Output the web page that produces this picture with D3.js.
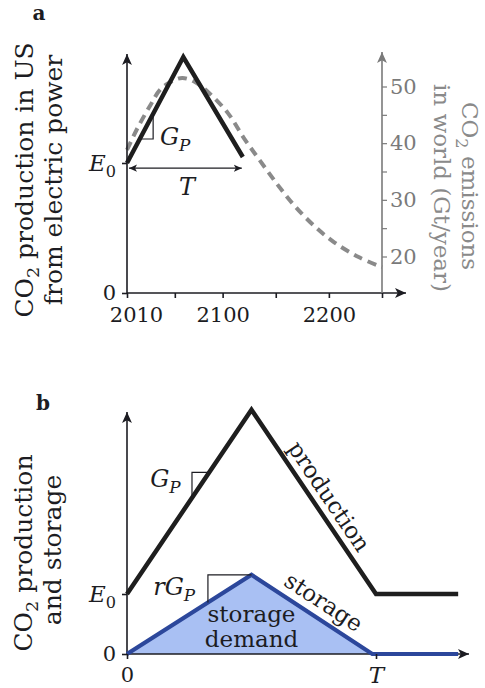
<!DOCTYPE html>
<html>
<head>
<meta charset="utf-8">
<script src="https://cdn.jsdelivr.net/npm/d3@7"></script>
<style>
  body { margin: 0; background: #fff; }
  text { font-family: "DejaVu Serif", serif; }
</style>
</head>
<body>
<svg id="chart" width="485" height="688"></svg>
<script>
// ---- panel a data: US power-sector CO2 (units of E0) and world emissions (Gt/year)
const usYears = [2010, 2063, 2119];
const usProd = [1, 1.815, 1.046];
const worldYears = [2010, 2020, 2032, 2041, 2051, 2062, 2074, 2087, 2105, 2120, 2136, 2152, 2167, 2185, 2205, 2228, 2250];
const worldEmis = [38.8, 42.7, 46.7, 49.4, 50.8, 51.5, 50.8, 48.9, 45.3, 40.9, 36.7, 32.6, 29.1, 25.6, 22.5, 19.9, 18.1];
const yearTicks = [2010, 2055, 2100, 2150, 2200, 2250];
const yearLabels = [2010, 2100, 2200];
const worldTicks = [20, 25, 30, 35, 40, 45, 50];

// ---- panel b data: schematic, time in units of T, amounts in units of E0
const prodT = [0, 0.5, 1, 1.33];
const prodV = [1, 4.07, 1, 1];
const storT = [0, 0.5, 0.985, 1.33];
const storV = [0, 1.32, 0, 0];

const svg = d3.select('#chart');
const dark = '#1c1c22', gray = '#7a7a7a';

// arrow heads
const defs = svg.append('defs');
function marker(id, color, size) {
  defs.append('marker')
    .attr('id', id)
    .attr('viewBox', '0 0 10 10')
    .attr('refX', 10).attr('refY', 5)
    .attr('markerUnits', 'userSpaceOnUse')
    .attr('markerWidth', size).attr('markerHeight', size)
    .attr('orient', 'auto-start-reverse')
    .append('path')
    .attr('d', 'M0,0.5 L10,5 L0,9.5 L2.5,5 Z')
    .attr('fill', color);
}
marker('arDark', dark, 11);
marker('arGray', gray, 11);
marker('arSmall', dark, 8);

// text with italic / subscript pieces
function rich(t, size, parts) {
  let down = false;
  parts.forEach(function (p) {
    const s = p[0], kind = p[1] || '';
    const sub = kind.indexOf('sub') >= 0;
    const sp = t.append('tspan').text(s);
    if (kind.indexOf('it') >= 0) sp.attr('font-style', 'italic');
    if (sub) sp.attr('font-size', size * 0.7);
    if (sub && !down) { sp.attr('dy', size * 0.25); down = true; }
    else if (!sub && down) { sp.attr('dy', -size * 0.25); down = false; }
  });
  return t;
}

function axisLine(x1, y1, x2, y2, color, mk) {
  svg.append('line')
    .attr('x1', x1).attr('y1', y1).attr('x2', x2).attr('y2', y2)
    .attr('stroke', color).attr('stroke-width', 1.6)
    .attr('marker-end', 'url(#' + mk + ')');
}

function styleAxis(g, color, fs) {
  g.select('.domain').remove();
  g.selectAll('.tick line').attr('stroke', color).attr('stroke-width', 1.6);
  g.selectAll('.tick text').attr('fill', color)
    .attr('font-family', '"DejaVu Serif", serif').attr('font-size', fs);
}

// ================= panel a =================
const xA = d3.scaleLinear().domain([2010, 2250]).range([127, 382]);
const yA = d3.scaleLinear().domain([0, 1]).range([293, 163]);
const yW = d3.scaleLinear().domain([20, 50]).range([256.5, 86.5]);

// world emissions, dashed
svg.append('path')
  .datum(worldYears.map((y, i) => [y, worldEmis[i]]))
  .attr('fill', 'none')
  .attr('stroke', '#8a8a8a')
  .attr('stroke-width', 4)
  .attr('stroke-dasharray', '9,6')
  .attr('d', d3.line().x(d => xA(d[0])).y(d => yW(d[1])).curve(d3.curveCatmullRom));

// US production
svg.append('path')
  .datum(usYears.map((y, i) => [y, usProd[i]]))
  .attr('fill', 'none')
  .attr('stroke', '#1e1e1e')
  .attr('stroke-width', 4.5)
  .attr('stroke-linejoin', 'miter')
  .attr('d', d3.line().x(d => xA(d[0])).y(d => yA(d[1])));

// axes
axisLine(xA(2010), yA(0), xA(2010), 54, dark, 'arDark');
axisLine(xA(2010), yA(0), 406, yA(0), dark, 'arDark');
axisLine(xA(2250), yA(0), xA(2250), 52, gray, 'arGray');

const axLA = svg.append('g').attr('transform', 'translate(' + xA(2010) + ',0)')
  .call(d3.axisLeft(yA).tickValues([0, 1]).tickSize(5).tickPadding(6)
    .tickFormat(d => d === 0 ? '0' : ''));
styleAxis(axLA, dark, 21);
axLA.selectAll('.tick text').filter(d => d === 1)
  .each(function () { rich(d3.select(this).attr('font-size', 23), 23, [['E', 'it'], ['0', 'sub']]); });

const axBA = svg.append('g').attr('transform', 'translate(0,' + yA(0) + ')')
  .call(d3.axisBottom(xA).tickValues(yearTicks).tickSize(5).tickPadding(9)
    .tickFormat(d => yearLabels.indexOf(d) >= 0 ? d : ''));
styleAxis(axBA, dark, 21);
axBA.selectAll('.tick text').filter(d => d === 2010).attr('dx', 9);

const axRA = svg.append('g').attr('transform', 'translate(' + xA(2250) + ',0)')
  .call(d3.axisRight(yW).tickValues(worldTicks).tickSize(5).tickPadding(3)
    .tickFormat(d => d % 10 === 0 ? d : ''));
styleAxis(axRA, gray, 21);
axRA.selectAll('.tick line').attr('stroke-width', 1.2);

// T span arrow
svg.append('line')
  .attr('x1', xA(usYears[0]) + 2).attr('x2', xA(usYears[2]) - 1)
  .attr('y1', yA(0.96)).attr('y2', yA(0.96))
  .attr('stroke', dark).attr('stroke-width', 1.2)
  .attr('marker-start', 'url(#arSmall)').attr('marker-end', 'url(#arSmall)');
rich(svg.append('text')
  .attr('x', (xA(usYears[0]) + xA(usYears[2])) / 2 + 2).attr('y', 195)
  .attr('text-anchor', 'middle').attr('font-size', 24).attr('fill', dark), 24, [['T', 'it']]);

// slope triangle G_P (panel a)
const sA = (usProd[1] - usProd[0]) / (usYears[1] - usYears[0]);
const ga0 = 2022, ga1 = 2034.6;
svg.append('path')
  .attr('d', d3.line()([
    [xA(ga0), yA(usProd[0] + sA * (ga0 - 2010))],
    [xA(ga1), yA(usProd[0] + sA * (ga0 - 2010))],
    [xA(ga1), yA(usProd[0] + sA * (ga1 - 2010))]
  ]))
  .attr('fill', 'none').attr('stroke', dark).attr('stroke-width', 1.2);
rich(svg.append('text').attr('x', xA(2041)).attr('y', 145)
  .attr('font-size', 24).attr('fill', dark), 24, [['G', 'it'], ['P', 'itsub']]);

// panel label and axis titles
svg.append('text').attr('x', 39).attr('y', 20).attr('text-anchor', 'middle')
  .attr('font-weight', 'bold').attr('font-size', 20).attr('fill', dark).text('a');

rich(svg.append('text').attr('transform', 'translate(33,180) rotate(-90)')
  .attr('text-anchor', 'middle').attr('font-size', 25).attr('fill', dark), 25,
  [['CO'], ['2', 'sub'], [' production in US']]);
svg.append('text').attr('transform', 'translate(62,180) rotate(-90)')
  .attr('text-anchor', 'middle').attr('font-size', 25).attr('fill', dark)
  .text('from electric power');

rich(svg.append('text').attr('transform', 'translate(462,186) rotate(90)')
  .attr('text-anchor', 'middle').attr('font-size', 23).attr('fill', '#8a8a8a'), 23,
  [['CO'], ['2', 'sub'], [' emissions']]);
svg.append('text').attr('transform', 'translate(434,188) rotate(90)')
  .attr('text-anchor', 'middle').attr('font-size', 23).attr('fill', '#8a8a8a')
  .text('in world (Gt/year)');

// ================= panel b =================
const xB = d3.scaleLinear().domain([0, 1]).range([127, 376]);
const yB = d3.scaleLinear().domain([0, 1]).range([654, 594]);

// storage demand area
svg.append('path')
  .datum(storT.map((t, i) => [t, storV[i]]))
  .attr('fill', '#a9c0f3')
  .attr('d', d3.area().x(d => xB(d[0])).y0(yB(0)).y1(d => yB(d[1])));

axisLine(xB(0), yB(0), xB(0), 412, dark, 'arDark');
axisLine(xB(0), yB(0), 469, yB(0), dark, 'arDark');

svg.append('path')
  .datum(storT.map((t, i) => [t, storV[i]]))
  .attr('fill', 'none').attr('stroke', '#2c479b').attr('stroke-width', 4.2)
  .attr('d', d3.line().x(d => xB(d[0])).y(d => yB(d[1])));

svg.append('path')
  .datum(prodT.map((t, i) => [t, prodV[i]]))
  .attr('fill', 'none').attr('stroke', '#1e1e1e').attr('stroke-width', 4.5)
  .attr('d', d3.line().x(d => xB(d[0])).y(d => yB(d[1])));

const axLB = svg.append('g').attr('transform', 'translate(' + xB(0) + ',0)')
  .call(d3.axisLeft(yB).tickValues([0, 1]).tickSize(5).tickPadding(6)
    .tickFormat(d => d === 0 ? '0' : ''));
styleAxis(axLB, dark, 21);
axLB.selectAll('.tick text').filter(d => d === 1)
  .each(function () { rich(d3.select(this).attr('font-size', 23), 23, [['E', 'it'], ['0', 'sub']]); });

const axBB = svg.append('g').attr('transform', 'translate(0,' + yB(0) + ')')
  .call(d3.axisBottom(xB).tickValues([0, 1]).tickSize(5).tickPadding(8)
    .tickFormat(d => d === 0 ? '0' : ''));
styleAxis(axBB, dark, 21);
axBB.selectAll('.tick text').filter(d => d === 1)
  .each(function () { rich(d3.select(this).attr('font-size', 23), 23, [['T', 'it']]); });

// labels along segments
function along(p, q, txt, off, shift, fs, color) {
  const a = [xB(p[0]), yB(p[1])], b = [xB(q[0]), yB(q[1])];
  const dx = b[0] - a[0], dy = b[1] - a[1], L = Math.hypot(dx, dy);
  const ux = dx / L, uy = dy / L, nx = uy, ny = -ux;
  const cx = (a[0] + b[0]) / 2 + nx * off + ux * shift;
  const cy = (a[1] + b[1]) / 2 + ny * off + uy * shift;
  svg.append('text')
    .attr('transform', 'translate(' + cx + ',' + cy + ') rotate(' + Math.atan2(dy, dx) * 180 / Math.PI + ')')
    .attr('text-anchor', 'middle').attr('dy', '0.35em')
    .attr('font-size', fs).attr('fill', color).text(txt);
}
along([prodT[1], prodV[1]], [prodT[2], prodV[2]], 'production', 16, 4, 23, dark);
along([storT[1], storV[1]], [storT[2], storV[2]], 'storage', 17, 3, 23, dark);

svg.append('text').attr('x', xB(0.5)).attr('y', 622).attr('text-anchor', 'middle')
  .attr('font-size', 23).attr('fill', dark).text('storage');
svg.append('text').attr('x', xB(0.5)).attr('y', 647).attr('text-anchor', 'middle')
  .attr('font-size', 23).attr('fill', dark).text('demand');

// slope triangles panel b
const sP = (prodV[1] - prodV[0]) / prodT[1];
const g0 = 0.261, g1 = 0.33;
svg.append('path')
  .attr('d', d3.line()([
    [xB(g0), yB(prodV[0] + sP * g0)],
    [xB(g0), yB(prodV[0] + sP * g1)],
    [xB(g1), yB(prodV[0] + sP * g1)]
  ]))
  .attr('fill', 'none').attr('stroke', dark).attr('stroke-width', 1.2);
rich(svg.append('text').attr('x', xB(0.093)).attr('y', 487)
  .attr('font-size', 24).attr('fill', dark), 24, [['G', 'it'], ['P', 'itsub']]);

const sS = storV[1] / storT[1];
const r0 = 0.325;
svg.append('path')
  .attr('d', d3.line()([
    [xB(r0), yB(sS * r0)],
    [xB(r0), yB(storV[1])],
    [xB(storT[1]), yB(storV[1])]
  ]))
  .attr('fill', 'none').attr('stroke', dark).attr('stroke-width', 1.2);
rich(svg.append('text').attr('x', xB(0.105)).attr('y', 595)
  .attr('font-size', 24).attr('fill', dark), 24, [['r', 'it'], ['G', 'it'], ['P', 'itsub']]);

svg.append('text').attr('x', 43).attr('y', 410).attr('text-anchor', 'middle')
  .attr('font-weight', 'bold').attr('font-size', 20).attr('fill', dark).text('b');

rich(svg.append('text').attr('transform', 'translate(32,553) rotate(-90)')
  .attr('text-anchor', 'middle').attr('font-size', 25).attr('fill', dark), 25,
  [['CO'], ['2', 'sub'], [' production']]);
svg.append('text').attr('transform', 'translate(61,550) rotate(-90)')
  .attr('text-anchor', 'middle').attr('font-size', 25).attr('fill', dark)
  .text('and storage');
</script>
</body>
</html>
